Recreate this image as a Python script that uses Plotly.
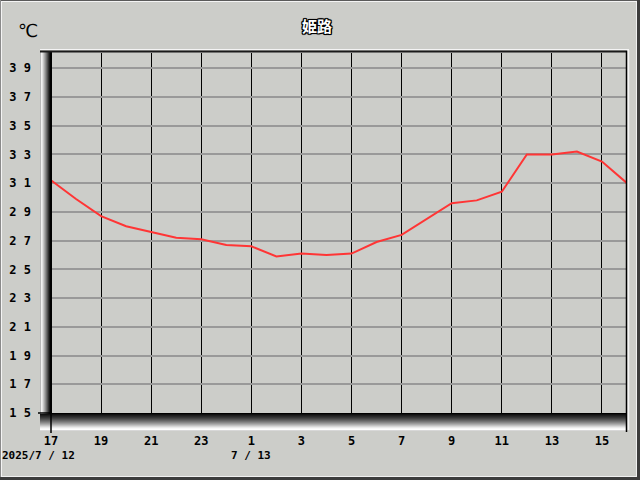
import plotly.graph_objects as go

# ---- data ----
hour_labels = ["17", "18", "19", "20", "21", "22", "23", "0", "1", "2", "3", "4",
               "5", "6", "7", "8", "9", "10", "11", "12", "13", "14", "15", "16"]
temps = [31.2, 29.9, 28.7, 28.0, 27.6, 27.2, 27.1, 26.7, 26.6, 25.9, 26.1, 26.0,
         26.1, 26.9, 27.4, 28.5, 29.6, 29.8, 30.4, 33.0, 33.0, 33.2, 32.5, 31.0]
x_tick_labels = ["17", "19", "21", "23", "1", "3", "5", "7", "9", "11", "13", "15"]
y_tick_values = [15, 17, 19, 21, 23, 25, 27, 29, 31, 33, 35, 37, 39]
date_labels = ["2025/7 / 12", "7 / 13"]
title_text = "姫路"
unit_text = "℃"

xs = list(range(len(temps)))
x_tick_pos = xs[::2]

BG = "#CCCDC9"
W, H = 640, 480
L, R, T, B = 51, 13, 53, 67
PW, PH = W - L - R, H - T - B


def px(x):
    return (x - L) / PW


def py(y):
    return (H - B - y) / PH


shapes = []


def rect(x0, y0, x1, y1, color):
    shapes.append(dict(type="rect", xref="paper", yref="paper",
                       x0=px(x0), x1=px(x1), y0=py(y1), y1=py(y0),
                       fillcolor=color, line=dict(width=0), layer="above"))


def hline(x0, x1, y, color, w=1):
    shapes.append(dict(type="line", xref="paper", yref="paper",
                       x0=px(x0), x1=px(x1), y0=py(y), y1=py(y),
                       line=dict(color=color, width=w), layer="above"))


def vline(x, y0, y1, color, w=1):
    shapes.append(dict(type="line", xref="paper", yref="paper",
                       x0=px(x), x1=px(x), y0=py(y0), y1=py(y1),
                       line=dict(color=color, width=w), layer="above"))


# floor (3D base) gradient dark -> light
floor_cols = ["#000000", "#111111", "#1e1e1e", "#2a2a2a", "#363636", "#444444",
              "#535353", "#636363", "#747474", "#868686", "#999999", "#adadad",
              "#c2c2c2", "#d7d7d7", "#eaeaea", "#f8f8f8", "#ffffff", "#d8d8d8"]
for i, c in enumerate(floor_cols):
    rect(40, 413 + i, 627, 414 + i, c)

# left wall gradient light -> dark
wall_cols = ["#b8b8b8", "#f2f2f2", "#e2e2e2", "#c6c6c6", "#aaaaaa", "#8e8e8e",
             "#707070", "#525252", "#323232", "#161616", "#000000", "#000000"]
for i, c in enumerate(wall_cols):
    rect(40 + i, 51, 41 + i, 414, c)

# frame lines of the 3D box
hline(40, 629, 49.5, "#f4f4f4")
hline(40, 627, 51.5, "#1a1a1a", 2)
vline(626.5, 51, 432, "#000000", 1.5)
vline(628.5, 50, 430, "#f4f4f4", 1.5)
vline(51, 413, 433, "#000000", 1.5)
hline(38, 51, 413, "#000000", 1.5)

# outer window border
hline(0, 640, 0.5, "#5a5a5a")
hline(0, 639, 1.5, "#f4f4f4")
vline(0.5, 0, 480, "#8a8a8a")
vline(1.5, 1, 478, "#f4f4f4")
vline(636.5, 2, 477, "#f0f0f0")
rect(637, 0, 640, 480, "#3c3c3c")
hline(2, 637, 476.5, "#f0f0f0")
rect(0, 477, 640, 480, "#3c3c3c")

fig = go.Figure()
fig.add_trace(go.Scatter(x=xs, y=temps, mode="lines",
                         line=dict(color="#FF3535", width=2),
                         hoverinfo="skip", showlegend=False, cliponaxis=True))

tick_font = dict(family="DejaVu Sans Mono", size=12, color="#000000", weight="bold")
date_font = dict(family="DejaVu Sans Mono", size=11, color="#000000", weight="bold")

fig.update_layout(
    width=W, height=H,
    margin=dict(l=L, r=R, t=T, b=B, pad=0, autoexpand=False),
    paper_bgcolor=BG, plot_bgcolor=BG,
    showlegend=False,
    shapes=shapes,
    xaxis=dict(range=[0, len(temps) - 1], tickmode="array",
               tickvals=x_tick_pos, ticktext=x_tick_labels, automargin=False,
               showgrid=True, gridcolor="#000000", gridwidth=1,
               zeroline=False, showline=False, ticks="",
               ticklabelstandoff=19, tickfont=tick_font, fixedrange=True),
    yaxis=dict(range=[15, 40.06], tickmode="array",
               tickvals=y_tick_values, automargin=False,
               ticktext=["\u2009".join(str(v)) for v in y_tick_values],
               showgrid=True, gridcolor="#999999", gridwidth=2,
               zeroline=False, showline=False, ticks="",
               ticklabelstandoff=19, tickfont=tick_font, fixedrange=True),
    annotations=[
        dict(text=title_text, xref="paper", yref="paper", x=px(317), y=py(25),
             xanchor="center", yanchor="middle", showarrow=False,
             font=dict(family="Noto Sans CJK JP", size=15, color="#ffffff", weight="bold",
                       shadow="1px 1px 0 #000, -1px -1px 0 #000, 1px -1px 0 #000, -1px 1px 0 #000, 0 1px 1px #000, 0 -1px 1px #000, 1px 0 1px #000, -1px 0 1px #000")),
        dict(text=unit_text, xref="paper", yref="paper", x=px(28), y=py(30),
             xanchor="center", yanchor="middle", showarrow=False,
             font=dict(family="DejaVu Sans", size=18, color="#000000")),
        dict(text=date_labels[0], xref="paper", yref="paper", x=px(0), y=py(455),
             xanchor="left", yanchor="middle", showarrow=False,
             font=date_font),
        dict(text=date_labels[1], xref="x", yref="paper", x=x_tick_pos[4], y=py(455),
             xanchor="center", yanchor="middle", showarrow=False,
             font=date_font),
    ],
)

fig.write_html("out.html", config={"displayModeBar": False},
               post_script="document.body.style.margin='0';document.body.style.overflow='hidden';")
